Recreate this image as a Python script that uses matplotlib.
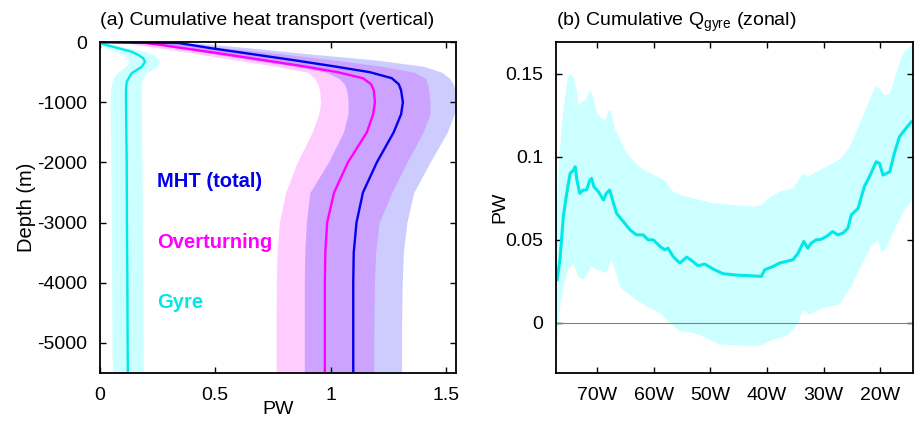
import numpy as np
import matplotlib
matplotlib.use("Agg")
import matplotlib.pyplot as plt

plt.rcParams['font.family'] = ['Liberation Sans', 'DejaVu Sans']
plt.rcParams['axes.unicode_minus'] = False
plt.rcParams['mathtext.default'] = 'regular'

# ---- (a) cumulative heat transport vs depth ----
depth = [0, -15, -50, -100, -200, -300, -400, -500, -600, -700, -800, -1000,
         -1200, -1500, -2000, -2500, -3000, -3500, -4000, -4500, -5000, -5500]
mht = [0, 0.34, 0.40, 0.48, 0.66, 0.84, 1.01, 1.17, 1.265, 1.295, 1.305, 1.313,
       1.305, 1.273, 1.20, 1.14, 1.112, 1.10, 1.098, 1.098, 1.098, 1.098]
mht_lo = [0, 0.22, 0.27, 0.33, 0.50, 0.66, 0.84, 0.98, 1.035, 1.06, 1.07, 1.076,
          1.075, 1.055, 0.99, 0.91, 0.895, 0.888, 0.886, 0.886, 0.886, 0.886]
mht_hi = [0, 0.42, 0.52, 0.66, 0.92, 1.20, 1.40, 1.48, 1.515, 1.532, 1.538, 1.542,
          1.535, 1.505, 1.43, 1.36, 1.33, 1.315, 1.31, 1.308, 1.307, 1.307]
ovt = [0, 0.20, 0.27, 0.36, 0.54, 0.71, 0.88, 1.03, 1.14, 1.175, 1.187, 1.192,
       1.184, 1.157, 1.075, 1.015, 0.985, 0.977, 0.975, 0.975, 0.975, 0.975]
ovt_lo = [0, 0.12, 0.17, 0.26, 0.43, 0.59, 0.76, 0.90, 0.93, 0.945, 0.952, 0.957,
          0.948, 0.92, 0.855, 0.805, 0.778, 0.768, 0.765, 0.764, 0.764, 0.764]
ovt_hi = [0, 0.30, 0.42, 0.55, 0.80, 1.02, 1.22, 1.36, 1.41, 1.42, 1.425, 1.43,
          1.43, 1.40, 1.33, 1.265, 1.21, 1.195, 1.19, 1.188, 1.187, 1.187]

gdepth = [0, -40, -100, -160, -220, -270, -330, -410, -520, -660, -800, -1000,
          -2000, -3000, -4000, -5000, -5500]
gyre = [0, 0.02, 0.08, 0.138, 0.17, 0.189, 0.196, 0.182, 0.138, 0.117, 0.114,
        0.114, 0.117, 0.118, 0.12, 0.121, 0.122]
gyre_lo = [0, 0.0, 0.03, 0.075, 0.105, 0.12, 0.128, 0.112, 0.072, 0.052, 0.047,
           0.045, 0.048, 0.05, 0.052, 0.053, 0.055]
gyre_hi = [0, 0.05, 0.13, 0.20, 0.235, 0.253, 0.26, 0.245, 0.2, 0.182, 0.18,
           0.18, 0.183, 0.185, 0.187, 0.188, 0.189]

xticks_a = [0, 0.5, 1, 1.5]
xlabels_a = ['0', '0.5', '1', '1.5']
yticks_a = [0, -1000, -2000, -3000, -4000, -5000]
ylabels_a = ['0', '-1000', '-2000', '-3000', '-4000', '-5000']

# ---- (b) cumulative Q_gyre vs longitude ----
lon = [-77.1, -76.6, -76.0, -75.4, -74.8, -74.2, -73.9, -73.6, -73.1, -72.5,
       -71.9, -71.3, -71.0, -70.6, -69.8, -68.9, -68.4, -67.8, -67.3, -66.6,
       -65.4, -64.2, -63.1, -61.9, -61.0, -60.1, -58.9, -58.1, -57.5, -56.6,
       -55.4, -54.2, -53.1, -52.2, -51.0, -49.5, -47.8, -45.4, -43.1, -41.0,
       -40.4, -38.9, -37.8, -35.4, -34.5, -33.5, -32.8, -32.2, -31.3, -30.4,
       -29.5, -28.4, -27.5, -26.6, -25.7, -25.1, -23.9, -22.8, -21.9, -20.7,
       -20.1, -19.5, -18.3, -17.5, -16.6, -15.7, -14.5]
qgyre = [0.026, 0.038, 0.064, 0.078, 0.090, 0.092, 0.094, 0.086, 0.078, 0.080,
         0.080, 0.086, 0.087, 0.082, 0.079, 0.074, 0.078, 0.080, 0.074, 0.066,
         0.061, 0.056, 0.053, 0.053, 0.050, 0.050, 0.046, 0.044, 0.045, 0.040,
         0.036, 0.0396, 0.037, 0.0344, 0.0354, 0.0324, 0.0296, 0.0288, 0.0284, 0.028,
         0.032, 0.034, 0.036, 0.038, 0.042, 0.049, 0.045, 0.048, 0.050, 0.0504,
         0.052, 0.055, 0.053, 0.054, 0.057, 0.065, 0.069, 0.082, 0.088, 0.097,
         0.096, 0.089, 0.091, 0.102, 0.112, 0.116, 0.121]
lon_hi = [-77.3, -76.8, -76.3, -75.7, -75.2, -74.8, -74.2, -73.6, -73.3, -72.7,
          -71.9, -71.3, -70.7, -70.1, -69.5, -68.6, -68.0, -67.6, -66.9, -66.0,
          -65.4, -64.5, -63.4, -62.2, -60.5, -58.1, -56.6, -54.2, -51.9, -49.5,
          -46.0, -42.5, -41.0, -40.1, -37.8, -35.4, -33.6, -32.8, -30.7, -28.4,
          -26.9, -25.4, -23.6, -21.9, -20.7, -20.1, -19.2, -18.3, -17.2, -16.0, -14.2]
qgyre_hi = [0.06, 0.095, 0.118, 0.136, 0.148, 0.150, 0.148, 0.140, 0.131, 0.133,
            0.135, 0.140, 0.136, 0.127, 0.124, 0.122, 0.128, 0.128, 0.117, 0.111,
            0.106, 0.101, 0.097, 0.093, 0.090, 0.086, 0.079, 0.076, 0.074, 0.072,
            0.071, 0.070, 0.071, 0.074, 0.079, 0.081, 0.090, 0.088, 0.092, 0.096,
            0.099, 0.106, 0.120, 0.134, 0.143, 0.141, 0.137, 0.138, 0.150, 0.162, 0.168]
lon_lo = [-77.3, -77.2, -76.6, -76.0, -75.1, -74.2, -73.4, -72.5, -71.0, -70.1,
          -68.4, -67.5, -66.9, -66.0, -64.8, -63.1, -61.3, -58.9, -57.2, -55.4,
          -53.1, -50.7, -48.4, -44.8, -41.9, -40.7, -38.9, -36.6, -34.8, -33.6,
          -32.5, -30.1, -27.2, -25.1, -23.1, -21.6, -20.4, -19.8, -18.9, -17.5,
          -16.0, -14.2]
qgyre_lo = [-0.012, -0.015, 0.008, 0.022, 0.032, 0.036, 0.028, 0.026, 0.034, 0.032,
            0.030, 0.038, 0.032, 0.022, 0.018, 0.014, 0.010, 0.006, 0.0, -0.005,
            -0.006, -0.009, -0.013, -0.0136, -0.014, -0.013, -0.010, -0.008, -0.002, 0.008,
            0.005, 0.009, 0.011, 0.022, 0.036, 0.046, 0.050, 0.042, 0.045, 0.056,
            0.066, 0.075]

xticks_b = [-70, -60, -50, -40, -30, -20]
xlabels_b = ['70W', '60W', '50W', '40W', '30W', '20W']
yticks_b = [0, 0.05, 0.1, 0.15]
ylabels_b = ['0', '0.05', '0.1', '0.15']

c_mht = '#0000ee'
c_ovt = '#ff00ff'
c_gyre = '#00e8e8'
fs = 14

fig = plt.figure(figsize=(9.17, 4.21), dpi=100)
ax1 = fig.add_axes([0.1087, 0.114, 0.3891, 0.786])
ax2 = fig.add_axes([0.606, 0.1147, 0.3896, 0.785])

# shaded ranges, then the central estimates
ax1.fill_betweenx(gdepth, gyre_lo, gyre_hi, color='#00ffff', alpha=0.2, lw=0)
ax1.fill_betweenx(depth, ovt_lo, ovt_hi, color='#ff00ff', alpha=0.2, lw=0)
ax1.fill_betweenx(depth, mht_lo, mht_hi, color='#0000ff', alpha=0.2, lw=0)
ax1.plot(gyre, gdepth, color=c_gyre, lw=1.7)
ax1.plot(ovt, depth, color=c_ovt, lw=1.7)
ax1.plot(mht, depth, color=c_mht, lw=1.7)

ax1.text(0.25, -2320, 'MHT (total)', color=c_mht, fontsize=14.5, fontweight='bold', va='center')
ax1.text(0.25, -3330, 'Overturning', color=c_ovt, fontsize=14.5, fontweight='bold', va='center')
ax1.text(0.25, -4330, 'Gyre', color=c_gyre, fontsize=14.5, fontweight='bold', va='center')

ax1.set_xlim(0, 1.545)
ax1.set_ylim(-5500, 0)
ax1.set_xticks(xticks_a)
ax1.set_xticklabels(xlabels_a)
ax1.set_yticks(yticks_a)
ax1.set_yticklabels(ylabels_a)
ax1.set_xlabel('PW', fontsize=fs, labelpad=-2)
ax1.set_ylabel('Depth (m)', fontsize=14.5, labelpad=1)
ax1.set_title('(a) Cumulative heat transport (vertical)', loc='left', fontsize=fs, pad=12)

poly_x = np.concatenate([lon_hi, lon_lo[::-1]])
poly_y = np.concatenate([qgyre_hi, qgyre_lo[::-1]])
ax2.fill(poly_x, poly_y, color='#00ffff', alpha=0.2, lw=0)
ax2.axhline(0, color='0.5', lw=0.8)
ax2.plot(lon, qgyre, color=c_gyre, lw=2.2)

ax2.set_xlim(-77.35, -14.2)
ax2.set_ylim(-0.03, 0.169)
ax2.set_xticks(xticks_b)
ax2.set_xticklabels(xlabels_b)
ax2.set_yticks(yticks_b)
ax2.set_yticklabels(ylabels_b)
ax2.set_ylabel('PW', fontsize=fs, labelpad=-2)
ax2.set_title('(b) Cumulative Q$_{gyre}$ (zonal)', loc='left', fontsize=fs, pad=12)

for ax in (ax1, ax2):
    ax.tick_params(direction='in', top=True, right=True, length=4, width=1,
                   labelsize=fs)
    ax.tick_params(axis='x', pad=10)
    ax.tick_params(axis='y', pad=9)
    for sp in ax.spines.values():
        sp.set_linewidth(1.3)

fig.savefig('out.png', dpi=100)
